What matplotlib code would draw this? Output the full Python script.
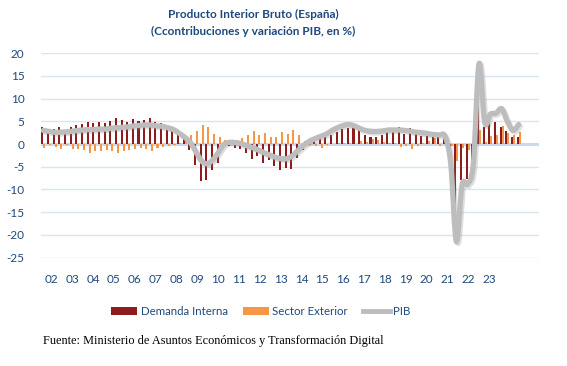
import numpy as np
import matplotlib
matplotlib.use("Agg")
import matplotlib.pyplot as plt
from matplotlib.path import Path
from matplotlib.patches import PathPatch, Patch
from matplotlib.lines import Line2D
import matplotlib.patheffects as pe

# Quarterly data 2002Q1 .. 2023Q1 (year-on-year, %)
demanda_interna = [
    3.7, 2.6, 3.3, 3.7,      # 2002
    2.8, 3.7, 4.2, 4.5,      # 2003
    4.8, 4.6, 4.8, 4.6,      # 2004
    5.1, 5.7, 5.2, 4.9,      # 2005
    5.5, 5.0, 5.4, 5.7,      # 2006
    4.8, 4.6, 4.3, 3.5,      # 2007
    2.8, 1.3, -1.2, -4.6,    # 2008
    -8.2, -8.0, -5.8, -4.2,  # 2009
    -1.0, -0.5, -0.8, -1.1,  # 2010
    -1.9, -3.2, -2.7, -4.2,  # 2011
    -3.5, -4.8, -5.8, -5.3,  # 2012
    -5.4, -3.0, -1.4, 0.2,   # 2013
    1.0, 1.8, 1.9, 1.9,      # 2014
    2.6, 3.3, 3.6, 4.0,      # 2015
    3.0, 2.0, 1.5, 1.5,      # 2016
    2.1, 2.6, 2.6, 3.8,      # 2017
    2.2, 3.5, 2.5, 1.8,      # 2018
    1.7, 1.5, 2.0, 1.2,      # 2019
    -3.8, -17.8, -7.9, -7.6, # 2020
    -3.5, 14.5, 3.7, 4.8,    # 2021
    4.8, 3.8, 2.9, 1.5,      # 2022
    1.5,                     # 2023
]
sector_exterior = [
    -0.9, -0.3, -0.7, -1.1,
    -0.2, -1.0, -1.1, -1.2,
    -2.0, -1.5, -1.5, -1.4,
    -1.6, -2.0, -1.6, -1.2,
    -1.0, -0.9, -1.1, -1.6,
    -0.9, -0.6, -0.5, -0.3,
    0.2, 0.6, 2.1, 2.8,
    4.1, 3.8, 2.3, 1.6,
    0.8, 0.5, 1.0, 1.4,
    2.0, 2.8, 1.9, 2.4,
    1.5, 1.5, 2.7, 2.2,
    3.0, 1.9, 0.6, -0.3,
    -0.5, -0.9, -0.3, 0.1,
    0.2, 0.3, 0.2, 0.1,
    0.6, 0.5, 1.1, 1.0,
    0.5, 0.3, 0.2, -0.7,
    -0.5, -1.1, -0.4, 0.2,
    0.6, 1.3, -0.4, 0.6,
    -0.4, -3.8, -0.9, -1.2,
    -0.8, 3.0, 0.5, 1.7,
    1.9, 3.9, 2.4, 2.0,
    2.7,
]
pib = [
    3.0, 2.8, 2.6, 2.6,
    2.7, 2.8, 3.0, 3.1,
    3.2, 3.2, 3.3, 3.3,
    3.5, 3.6, 3.7, 3.8,
    4.0, 4.1, 4.2, 4.2,
    4.0, 3.9, 3.6, 3.2,
    2.4, 1.5, 0.3, -1.8,
    -3.8, -4.3, -3.4, -1.7,
    0.0, 0.4, 0.3, 0.1,
    -0.4, -0.8, -1.3, -1.9,
    -2.4, -2.9, -3.2, -3.2,
    -2.6, -1.4, -0.3, 0.6,
    1.2, 1.7, 2.2, 3.0,
    3.6, 4.1, 4.3, 4.0,
    3.4, 3.0, 2.8, 2.8,
    2.9, 3.1, 3.1, 3.1,
    3.0, 2.8, 2.6, 2.5,
    2.3, 2.1, 2.0, 1.7,
    -4.3, -21.5, -9.0, -8.8,
    -4.3, 17.7, 4.8, 6.6,
    6.8, 7.8, 5.0, 3.0,
    4.3,
]
year_labels = ['02', '03', '04', '05', '06', '07', '08', '09', '10', '11', '12',
               '13', '14', '15', '16', '17', '18', '19', '20', '21', '22', '23']
y_ticks = [-25, -20, -15, -10, -5, 0, 5, 10, 15, 20]

title_1 = 'Producto Interior Bruto (España)'
title_2 = '(Ccontribuciones y variación PIB, en %)'
source = 'Fuente: Ministerio de Asuntos Económicos y Transformación Digital'

TXT = '#1f497d'
RED = '#8e1c1c'
ORANGE = '#f79646'
GRAY = '#bdbdbd'
GRID = '#dbe5f1'
FONT = ['Lato', 'DejaVu Sans']

W, H = 567, 366
fig = plt.figure(figsize=(W / 100, H / 100), dpi=100)
ax = fig.add_axes([41 / W, 1 - 257.5 / H, 498 / W, 204.2 / H])

x = np.arange(len(pib))
bw = 0.36
ax.bar(x - bw / 2, demanda_interna, bw, color=RED, zorder=3, linewidth=0)
ax.bar(x + bw / 2, sector_exterior, bw, color=ORANGE, zorder=3, linewidth=0)


def smooth_path(xs, ys):
    pts = np.column_stack([xs, ys]).astype(float)
    n = len(pts)
    verts = [pts[0]]
    codes = [Path.MOVETO]
    for i in range(n - 1):
        p0 = pts[i - 1] if i > 0 else pts[i]
        p1 = pts[i]
        p2 = pts[i + 1]
        p3 = pts[i + 2] if i + 2 < n else pts[i + 1]
        c1 = p1 + (p2 - p0) / 6.0
        c2 = p2 - (p3 - p1) / 6.0
        verts += [c1, c2, p2]
        codes += [Path.CURVE4] * 3
    return Path(verts, codes)


line_patch = PathPatch(smooth_path(x, pib), facecolor='none', edgecolor=GRAY,
                       linewidth=3.8, zorder=4, capstyle='round', joinstyle='round')
line_patch.set_path_effects([
    pe.SimpleLineShadow(offset=(1.2, -1.2), shadow_color='#808080', alpha=0.25),
    pe.Normal()])
ax.add_patch(line_patch)

ax.set_xlim(-0.41, 87.6)
ax.set_ylim(-25, 20)
ax.set_yticks(y_ticks)
ax.set_yticklabels([str(v) for v in y_ticks], fontfamily=FONT, fontsize=8.5, color=TXT)
xt = [1.428 + 3.683 * k for k in range(len(year_labels))]
ax.set_xticks(xt)
ax.set_xticklabels(year_labels, fontfamily=FONT, fontsize=8.5, color=TXT)
ax.tick_params(axis='both', length=0)
ax.tick_params(axis='y', pad=12)
ax.tick_params(axis='x', pad=12)
for s in ax.spines.values():
    s.set_visible(False)
for v in y_ticks:
    if v == 0:
        ax.axhline(v, color='#c9d9ee', linewidth=2.2, zorder=1)
    else:
        ax.axhline(v, color=GRID, linewidth=1.0, zorder=1)

fig.text(253 / W, 1 - 14 / H, title_1, ha='center', va='center', fontfamily=FONT,
         fontsize=8.5, fontweight='bold', color=TXT)
fig.text(253 / W, 1 - 31.5 / H, title_2, ha='center', va='center', fontfamily=FONT,
         fontsize=8.5, fontweight='bold', color=TXT)

handles = [Patch(facecolor=RED, edgecolor='none'),
           Patch(facecolor=ORANGE, edgecolor='none'),
           Line2D([0], [0], color=GRAY, linewidth=3.5)]
fig.legend(handles, ['Demanda Interna', 'Sector Exterior', 'PIB'], ncol=3,
           loc='center', bbox_to_anchor=(260.5 / W, 1 - 311.7 / H), frameon=False,
           prop={'family': FONT, 'size': 8.3}, labelcolor=TXT, handlelength=2.3,
           handleheight=0.6, handletextpad=0.3, columnspacing=1.3)

fig.text(42.7 / W, 1 - 341 / H, source, ha='left', va='center',
         fontfamily='Liberation Serif', fontsize=8.8, color='black')

fig.savefig('out.png', dpi=100)
